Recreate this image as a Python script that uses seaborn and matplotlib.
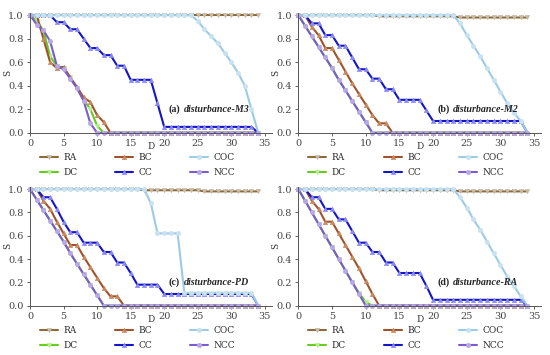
import numpy as np
import pandas as pd
import matplotlib
matplotlib.use("Agg")
import matplotlib.pyplot as plt
import seaborn as sns

D = list(range(35))
methods = ["RA", "DC", "BC", "CC", "COC", "NCC"]

# ================= panel (a) disturbance-M3 =================
RA_a = [1.0] * 35
DC_a = [1.0, 0.95, 0.87, 0.65, 0.57, 0.55, 0.47, 0.38, 0.28, 0.2, 0.06] + [0.0] * 24
BC_a = [1.0, 1.0, 0.8, 0.6, 0.55, 0.56, 0.47, 0.39, 0.3, 0.26, 0.15, 0.09] + [0.0] * 23
CC_a = [1.0, 1.0, 1.0, 1.0, 0.94, 0.94, 0.88, 0.88, 0.8, 0.72, 0.72, 0.66, 0.66, 0.57, 0.57,
        0.45, 0.45, 0.45, 0.45, 0.25] + [0.05] * 14 + [0.0]
COC_a = [1.0] * 25 + [0.95, 0.88, 0.82, 0.76, 0.68, 0.6, 0.51, 0.4, 0.2, 0.0]
NCC_a = [1.0, 0.92, 0.87, 0.78, 0.57, 0.54, 0.46, 0.38, 0.27, 0.08, 0.0] + [0.0] * 24

# ================= panel (b) disturbance-M2 =================
RA_b = [1.0] * 12 + [0.99] * 12 + [0.98] * 11
DC_b = [1.0, 0.91, 0.82, 0.73, 0.64, 0.55, 0.45, 0.36, 0.27, 0.18, 0.09, 0.0] + [0.0] * 23
BC_b = [1.0, 1.0, 0.9, 0.83, 0.72, 0.72, 0.62, 0.52, 0.42, 0.33, 0.24, 0.15, 0.08, 0.08, 0.0] + [0.0] * 20
CC_b = [1.0, 1.0, 0.93, 0.93, 0.83, 0.83, 0.74, 0.74, 0.64, 0.54, 0.54, 0.46, 0.46, 0.37, 0.37,
        0.28, 0.28, 0.28, 0.28, 0.19] + [0.1] * 14 + [0.0]
COC_b = [1.0] * 24 + [0.93, 0.83, 0.74, 0.65, 0.55, 0.45, 0.35, 0.25, 0.17, 0.1, 0.0]
NCC_b = [1.0, 0.91, 0.82, 0.73, 0.64, 0.55, 0.45, 0.36, 0.27, 0.18, 0.09, 0.0] + [0.0] * 23

# ================= panel (c) disturbance-PD =================
RA_c = [1.0] * 17 + [0.99] * 9 + [0.98] * 9
DC_c = [1.0, 0.91, 0.82, 0.73, 0.64, 0.55, 0.45, 0.36, 0.27, 0.18, 0.09, 0.0] + [0.0] * 23
BC_c = [1.0, 1.0, 0.9, 0.83, 0.72, 0.62, 0.52, 0.52, 0.42, 0.33, 0.24, 0.15, 0.08, 0.08, 0.0] + [0.0] * 20
CC_c = [1.0, 1.0, 0.93, 0.93, 0.83, 0.72, 0.63, 0.63, 0.54, 0.54, 0.54, 0.46, 0.46, 0.37, 0.37,
        0.28, 0.18, 0.18, 0.18, 0.18] + [0.1] * 14 + [0.0]
COC_c = [1.0] * 18 + [0.88, 0.62, 0.62, 0.62, 0.62] + [0.11] * 11 + [0.0]
NCC_c = [1.0, 0.91, 0.82, 0.73, 0.64, 0.55, 0.45, 0.36, 0.27, 0.18, 0.09, 0.0] + [0.0] * 23

# ================= panel (d) disturbance-RA =================
RA_d = [1.0] * 12 + [0.99] * 12 + [0.98] * 11
DC_d = [1.0, 0.9, 0.8, 0.7, 0.6, 0.5, 0.4, 0.3, 0.2, 0.11, 0.03, 0.0] + [0.0] * 23
BC_d = [1.0, 1.0, 0.9, 0.83, 0.72, 0.72, 0.62, 0.52, 0.42, 0.32, 0.21, 0.1, 0.0] + [0.0] * 22
CC_d = [1.0, 1.0, 0.93, 0.93, 0.83, 0.83, 0.74, 0.74, 0.64, 0.54, 0.54, 0.46, 0.46, 0.37, 0.37,
        0.28, 0.28, 0.28, 0.28, 0.17] + [0.05] * 14 + [0.0]
COC_d = [1.0] * 24 + [0.93, 0.84, 0.74, 0.65, 0.55, 0.45, 0.35, 0.25, 0.17, 0.08, 0.0]
NCC_d = [1.0, 0.9, 0.8, 0.7, 0.6, 0.5, 0.4, 0.3, 0.2, 0.1, 0.0] + [0.0] * 24

panels = [
    ("(a)", "disturbance-M3", [RA_a, DC_a, BC_a, CC_a, COC_a, NCC_a]),
    ("(b)", "disturbance-M2", [RA_b, DC_b, BC_b, CC_b, COC_b, NCC_b]),
    ("(c)", "disturbance-PD", [RA_c, DC_c, BC_c, CC_c, COC_c, NCC_c]),
    ("(d)", "disturbance-RA", [RA_d, DC_d, BC_d, CC_d, COC_d, NCC_d]),
]

colors = {"RA": "#8c6a3a", "DC": "#66cc22", "BC": "#a0522d",
          "CC": "#1414c8", "COC": "#9ccbe6", "NCC": "#7a5ccc"}
faces = {"RA": "#c8bca8", "DC": "#b8ee90", "BC": "#c88a60",
         "CC": "#8c8cf0", "COC": "#c8e2f2", "NCC": "#b8a8e8"}
markers = {"RA": "v", "DC": "v", "BC": "^", "CC": "^", "COC": "o", "NCC": "o"}

sns.set_style("ticks")
plt.rcParams["font.family"] = ["DejaVu Serif"]

fig = plt.figure(figsize=(5.5, 3.55), dpi=100)
positions = [(0.0545, 0.626, 0.4393, 0.338), (0.5424, 0.626, 0.441, 0.338),
             (0.0545, 0.139, 0.4393, 0.335), (0.5424, 0.139, 0.441, 0.335)]

for (tag, name, series), pos in zip(panels, positions):
    ax = fig.add_axes(pos)
    df = pd.DataFrame({"D": D})
    for m, vals in zip(methods, series):
        df[m] = vals
    for m in methods:
        sns.lineplot(data=df, x="D", y=m, ax=ax, color=colors[m], marker=markers[m],
                     markersize=3.2, markerfacecolor=faces[m], markeredgecolor=faces[m],
                     markeredgewidth=0.4, linewidth=1.5, label=m, clip_on=False)
    ax.set_xlim(0, 36)
    ax.set_ylim(0, 1.02)
    ax.set_xticks([0, 5, 10, 15, 20, 25, 30, 35])
    ax.set_yticks([0.0, 0.2, 0.4, 0.6, 0.8, 1.0])
    ax.set_yticklabels(["0.0", "0.2", "0.4", "0.6", "0.8", "1.0"])
    ax.tick_params(labelsize=7, colors="#444444", length=2.5, width=0.6, pad=2)
    for s in ["left", "bottom"]:
        ax.spines[s].set_color("#555555")
        ax.spines[s].set_linewidth(0.7)
    sns.despine(ax=ax)
    ax.set_xlabel("D", fontsize=6.5, color="#333333")
    ax.xaxis.set_label_coords(0.5, -0.075)
    ax.set_ylabel("S", fontsize=6.5, color="#333333")
    ax.yaxis.set_label_coords(-0.075, 0.5)
    ax.text(20.6, 0.2, tag, fontsize=7.2, fontweight="bold", family="Liberation Serif",
            ha="left", va="center")
    ax.text(23.0, 0.2, name, fontsize=7.2, fontweight="bold", fontstyle="italic",
            family="Liberation Serif", ha="left", va="center")
    ax.legend(loc="upper left", bbox_to_anchor=(0.04, -0.17), ncol=3, frameon=False,
              fontsize=6.5, handlelength=2.0, handletextpad=0.6, columnspacing=4.2,
              labelspacing=0.65, borderpad=0, borderaxespad=0)

fig.savefig("out.png", dpi=100)
